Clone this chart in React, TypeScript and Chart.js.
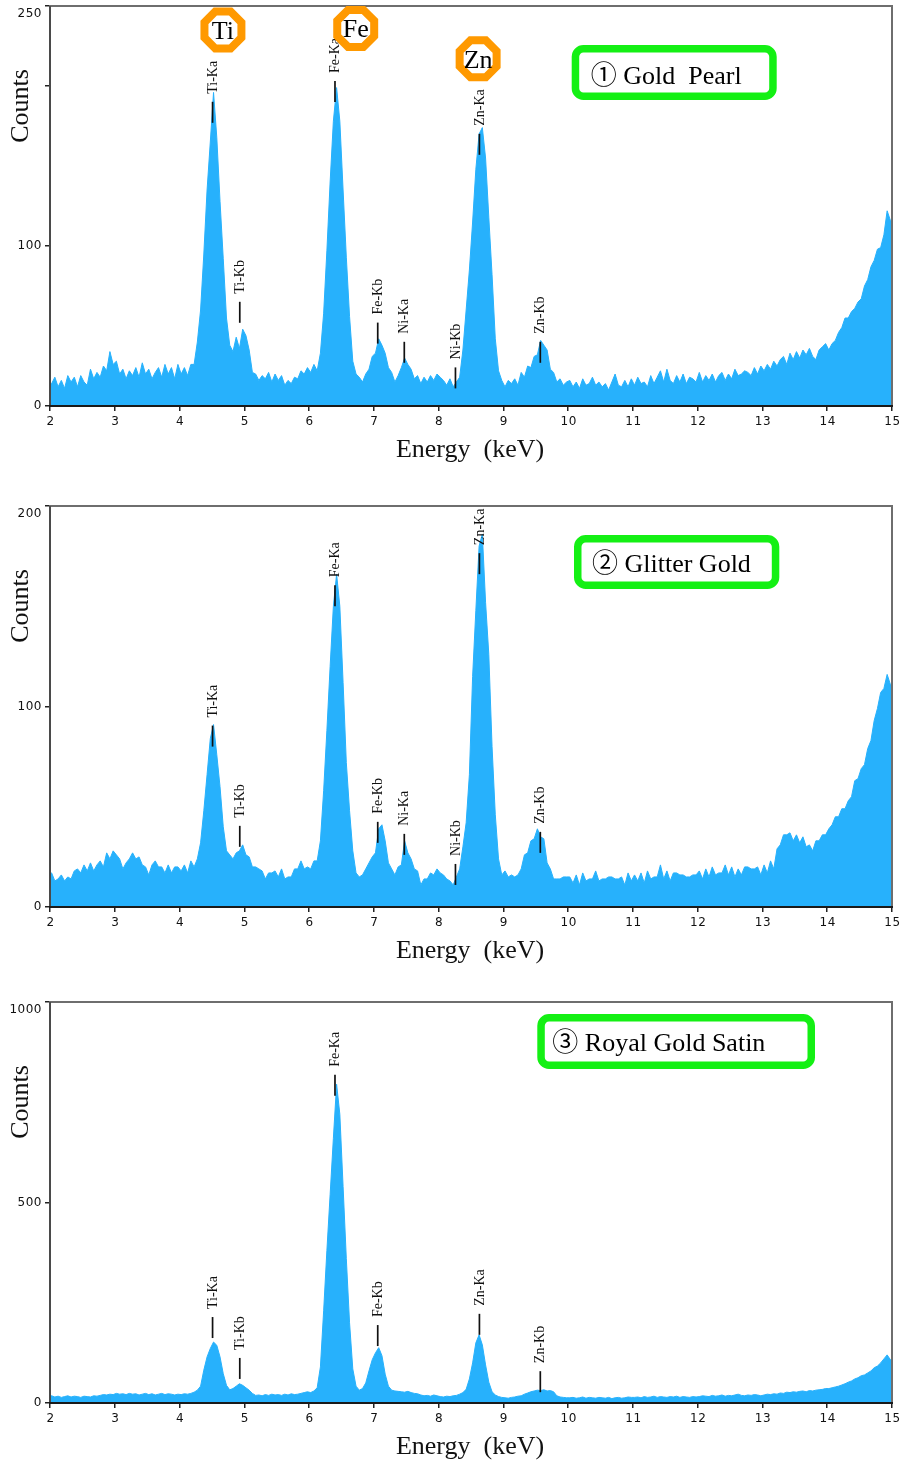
import React, { useEffect, useRef } from 'react';
import { Chart, registerables } from 'chart.js';

Chart.register(...registerables);

// ---------------- DATA ----------------
const ENERGY_MIN = 2;
const ENERGY_MAX = 15;
const CHANNEL_KEV = 0.05; // channel width (keV); counts below are channels starting at 2.00 keV

const X_TICKS = [2, 3, 4, 5, 6, 7, 8, 9, 10, 11, 12, 13, 14, 15];

// ① Gold Pearl (counts per channel, 2.00 - 15.00 keV, one row per keV)
const GOLD_PEARL_COUNTS = [
  14, 18, 12, 16, 11, 19, 15, 18, 12, 19, 15, 13, 23, 17, 21, 18, 25, 22, 34, 26,
  28, 20, 23, 17, 22, 19, 24, 18, 27, 20, 23, 17, 21, 24, 18, 26, 20, 24, 17, 26,
  20, 24, 19, 26, 26, 40, 60, 95, 135, 165, 196, 168, 128, 92, 55, 38, 34, 43, 36, 48,
  44, 35, 21, 20, 16, 19, 17, 21, 15, 20, 16, 19, 13, 16, 14, 18, 17, 22, 20, 24,
  21, 26, 22, 33, 58, 97, 140, 178, 199, 178, 135, 93, 56, 28, 20, 18, 15, 20, 23, 31,
  33, 42, 38, 33, 24, 21, 15, 19, 24, 30, 26, 23, 17, 19, 14, 18, 15, 19, 16, 20,
  18, 16, 13, 17, 12, 15, 18, 35, 60, 85, 115, 148, 170, 174, 155, 118, 82, 42, 22, 16,
  12, 16, 14, 17, 13, 21, 18, 25, 24, 31, 32, 41, 38, 35, 23, 21, 15, 17, 13, 15,
  16, 12, 15, 11, 17, 13, 14, 18, 13, 15, 12, 14, 10, 15, 20, 13, 12, 16, 12, 17,
  13, 18, 14, 15, 12, 19, 14, 18, 22, 15, 23, 16, 14, 19, 15, 20, 14, 18, 17, 15,
  21, 15, 19, 16, 20, 15, 19, 21, 16, 20, 17, 23, 19, 20, 22, 21, 19, 24, 20, 25,
  22, 26, 23, 28, 25, 29, 31, 26, 33, 29, 34, 30, 35, 32, 36, 31, 29, 35, 37, 39,
  35, 39, 41, 46, 49, 55, 55, 59, 61, 65, 67, 75, 79, 87, 91, 98, 99, 107, 122, 116,
];

// ② Glitter Gold
const GLITTER_GOLD_COUNTS = [
  17, 13, 14, 16, 13, 15, 14, 18, 19, 17, 21, 18, 22, 18, 21, 23, 20, 27, 24, 28,
  26, 24, 19, 22, 24, 27, 24, 25, 21, 20, 16, 21, 23, 20, 20, 17, 21, 17, 20, 20,
  18, 21, 17, 23, 20, 24, 32, 48, 66, 84, 91, 76, 60, 40, 28, 26, 24, 27, 28, 31,
  26, 25, 20, 20, 19, 18, 14, 17, 17, 18, 15, 19, 14, 15, 15, 19, 19, 23, 19, 20,
  19, 23, 23, 33, 58, 88, 120, 150, 166, 150, 112, 72, 48, 28, 17, 15, 16, 19, 22, 25,
  27, 39, 41, 33, 22, 19, 16, 20, 21, 33, 27, 24, 19, 18, 11, 14, 14, 17, 16, 19,
  17, 16, 14, 13, 11, 15, 19, 30, 42, 66, 115, 148, 180, 186, 152, 126, 80, 46, 24, 16,
  18, 15, 16, 15, 16, 19, 26, 27, 33, 34, 39, 35, 34, 22, 19, 14, 14, 14, 15, 15,
  15, 12, 16, 11, 17, 13, 14, 14, 18, 13, 14, 14, 15, 15, 14, 14, 15, 11, 17, 13,
  16, 13, 17, 12, 18, 14, 15, 15, 21, 14, 18, 13, 17, 17, 16, 16, 15, 15, 16, 16,
  18, 14, 19, 15, 20, 16, 17, 17, 21, 16, 20, 15, 19, 16, 20, 20, 19, 19, 20, 16,
  21, 17, 23, 19, 29, 31, 36, 36, 37, 33, 36, 32, 35, 30, 31, 28, 33, 33, 36, 36,
  39, 41, 45, 45, 49, 49, 53, 55, 63, 64, 69, 71, 79, 83, 93, 99, 107, 109, 116, 111,
];

// ③ Royal Gold Satin
const ROYAL_GOLD_SATIN_COUNTS = [
  18, 15, 17, 14, 16, 18, 15, 17, 16, 14, 17, 16, 15, 18, 17, 19, 21, 20, 22, 21,
  24, 22, 23, 21, 24, 22, 23, 20, 22, 24, 21, 23, 20, 22, 24, 21, 23, 22, 20, 22,
  21, 23, 22, 24, 27, 32, 42, 82, 115, 136, 152, 144, 115, 73, 44, 33, 36, 42, 48, 44,
  38, 32, 24, 19, 20, 18, 21, 19, 22, 20, 21, 19, 22, 20, 23, 21, 22, 24, 26, 28,
  26, 30, 38, 90, 230, 380, 520, 660, 795, 720, 540, 360, 200, 85, 42, 32, 36, 50, 80, 108,
  125, 138, 118, 72, 42, 32, 30, 29, 28, 27, 29, 26, 24, 23, 20, 18, 19, 17, 20, 18,
  16, 15, 17, 16, 18, 19, 22, 26, 34, 60, 100, 150, 170, 145, 95, 52, 28, 20, 16, 14,
  13, 12, 14, 15, 17, 18, 22, 25, 28, 30, 32, 31, 33, 30, 31, 28, 18, 15, 14, 13,
  13, 14, 12, 13, 15, 12, 14, 13, 12, 14, 13, 12, 14, 11, 13, 14, 12, 13, 15, 14,
  14, 15, 13, 16, 14, 15, 17, 14, 16, 15, 14, 16, 15, 17, 14, 16, 15, 14, 16, 15,
  16, 18, 17, 16, 19, 17, 18, 20, 17, 19, 18, 20, 22, 19, 18, 20, 19, 21, 20, 18,
  20, 22, 21, 23, 22, 25, 24, 27, 26, 28, 27, 29, 30, 28, 31, 30, 32, 33, 34, 36,
  36, 38, 40, 42, 45, 48, 52, 55, 60, 63, 68, 70, 75, 80, 88, 92, 100, 110, 120, 108,
];

// y-axis ticks & labels
const GOLD_PEARL_Y_TICKS = [0, 100, 200, 250];
const GOLD_PEARL_Y_LABELS = ['0', '100', '', '250'];
const GLITTER_GOLD_Y_TICKS = [0, 100, 200];
const GLITTER_GOLD_Y_LABELS = ['0', '100', '200'];
const ROYAL_GOLD_SATIN_Y_TICKS = [0, 500, 1000];
const ROYAL_GOLD_SATIN_Y_LABELS = ['0', '500', '1000'];

// X-ray line markers
const LINE_NAMES = ['Ti-Ka', 'Ti-Kb', 'Fe-Ka', 'Fe-Kb', 'Ni-Ka', 'Ni-Kb', 'Zn-Ka', 'Zn-Kb'];
const LINE_ENERGIES = [4.51, 4.93, 6.4, 7.06, 7.47, 8.26, 8.63, 9.57];
// count level at which each marker tick ends (null = not marked)
const GOLD_PEARL_MARKER_COUNTS = [177, 52, 190, 39, 27, 11, 157, 27];
const GLITTER_GOLD_MARKER_COUNTS = [80, 30, 150, 32, 26, 11, 166, 27];
const ROYAL_GOLD_SATIN_MARKER_COUNTS = [162, 60, 766, 142, null, null, 170, 27];

// element badges (panel 1)
const BADGE_ELEMENTS = ['Ti', 'Fe', 'Zn'];
const BADGE_ENERGIES = [4.67, 6.72, 8.61];
const BADGE_COUNTS = [235, 236, 217];

const SAMPLE_NAMES = ['\u2460 Gold  Pearl', '\u2461 Glitter Gold', '\u2462 Royal Gold Satin'];

const X_TITLE = 'Energy  (keV)';
const Y_TITLE = 'Counts';

// ---------------- STYLE / LAYOUT ----------------
const FILL = '#27B1FC';
const SERIF = '"Liberation Serif", "Times New Roman", "Noto Sans CJK JP", serif';
const TICK_FONT = '12px "DejaVu Sans", Verdana, sans-serif';

type Panel = {
  counts: number[];
  yMax: number;
  yTicks: number[];
  yLabels: string[];
  markerCounts: (number | null)[];
  name: string;
  badges: boolean;
  canvasTop: number;
  canvasHeight: number;
  plotHeight: number;
  box: { dx: number; dy: number; w: number; h: number; tx: number; ty: number };
};

const PANELS: Panel[] = [
  {
    counts: GOLD_PEARL_COUNTS, yMax: 250, yTicks: GOLD_PEARL_Y_TICKS, yLabels: GOLD_PEARL_Y_LABELS,
    markerCounts: GOLD_PEARL_MARKER_COUNTS, name: SAMPLE_NAMES[0], badges: true,
    canvasTop: 0, canvasHeight: 490, plotHeight: 400,
    box: { dx: 521.7, dy: 39, w: 205, h: 55, tx: 19, ty: 38.5 },
  },
  {
    counts: GLITTER_GOLD_COUNTS, yMax: 200, yTicks: GLITTER_GOLD_Y_TICKS, yLabels: GLITTER_GOLD_Y_LABELS,
    markerCounts: GLITTER_GOLD_MARKER_COUNTS, name: SAMPLE_NAMES[1], badges: false,
    canvasTop: 500, canvasHeight: 490, plotHeight: 401,
    box: { dx: 524, dy: 29, w: 205.3, h: 54, tx: 18, ty: 36.7 },
  },
  {
    counts: ROYAL_GOLD_SATIN_COUNTS, yMax: 1000, yTicks: ROYAL_GOLD_SATIN_Y_TICKS, yLabels: ROYAL_GOLD_SATIN_Y_LABELS,
    markerCounts: ROYAL_GOLD_SATIN_MARKER_COUNTS, name: SAMPLE_NAMES[2], badges: false,
    canvasTop: 996, canvasHeight: 464, plotHeight: 401,
    box: { dx: 487.3, dy: 12, w: 277.7, h: 55, tx: 15, ty: 37 },
  },
];

const PLOT_TOP = 6;
const PLOT_LEFT = 50;
const PLOT_RIGHT_PAD = 11;

function octagon(ctx: CanvasRenderingContext2D, cx: number, cy: number, r: number) {
  ctx.beginPath();
  for (let k = 0; k < 8; k++) {
    const a = Math.PI / 8 + (k * Math.PI) / 4;
    const px = cx + r * Math.cos(a);
    const py = cy + r * Math.sin(a);
    if (k === 0) ctx.moveTo(px, py);
    else ctx.lineTo(px, py);
  }
  ctx.closePath();
}

function makeOverlay(panel: Panel) {
  return {
    id: 'overlay',
    afterDraw(chart: any) {
      const ctx: CanvasRenderingContext2D = chart.ctx;
      const { left, right, top, bottom } = chart.chartArea;
      const xs = chart.scales.x;
      const ys = chart.scales.y;
      ctx.save();

      // markers
      LINE_NAMES.forEach((name, i) => {
        const v = panel.markerCounts[i];
        if (v === null || v === undefined) return;
        const x = xs.getPixelForValue(LINE_ENERGIES[i]);
        const yb = ys.getPixelForValue(v);
        const yt = yb - 21;
        ctx.strokeStyle = '#111';
        ctx.lineWidth = 1.7;
        ctx.beginPath();
        ctx.moveTo(x, yb);
        ctx.lineTo(x, yt);
        ctx.stroke();
        ctx.save();
        ctx.translate(x + 0.5, yt - 8);
        ctx.rotate(-Math.PI / 2);
        ctx.font = `14px ${SERIF}`;
        ctx.fillStyle = '#111';
        ctx.textAlign = 'left';
        ctx.textBaseline = 'middle';
        ctx.fillText(name, 0, 0);
        ctx.restore();
      });

      // frame
      ctx.strokeStyle = '#6e6e6e';
      ctx.lineWidth = 2;
      ctx.strokeRect(left, top, right - left, bottom - top);
      ctx.strokeStyle = '#4a4a4a';
      ctx.beginPath();
      ctx.moveTo(left, top);
      ctx.lineTo(left, bottom);
      ctx.stroke();
      ctx.strokeStyle = '#1a1a1a';
      ctx.beginPath();
      ctx.moveTo(left - 1, bottom);
      ctx.lineTo(right + 1, bottom);
      ctx.stroke();

      // tick labels
      ctx.font = TICK_FONT;
      (ctx as any).letterSpacing = '0.5px';
      ctx.fillStyle = '#111';
      ctx.textBaseline = 'middle';
      ctx.textAlign = 'right';
      panel.yTicks.forEach((t, i) => {
        const lab = panel.yLabels[i];
        if (!lab) return;
        let y = ys.getPixelForValue(t);
        if (t === panel.yMax) y += 8;
        ctx.fillText(lab, left - 8, y);
      });
      ctx.textAlign = 'center';
      X_TICKS.forEach((t) => {
        ctx.fillText(String(t), xs.getPixelForValue(t) + 0.5, bottom + 16);
      });
      (ctx as any).letterSpacing = '0px';

      // axis titles
      ctx.fillStyle = '#111';
      ctx.font = `26px ${SERIF}`;
      ctx.textAlign = 'center';
      ctx.textBaseline = 'alphabetic';
      ctx.fillText(X_TITLE, 470, bottom + 51);
      ctx.save();
      ctx.translate(28, top + 100);
      ctx.rotate(-Math.PI / 2);
      ctx.fillText(Y_TITLE, 0, 0);
      ctx.restore();

      // element badges
      if (panel.badges) {
        BADGE_ELEMENTS.forEach((el, i) => {
          const cx = xs.getPixelForValue(BADGE_ENERGIES[i]);
          const cy = ys.getPixelForValue(BADGE_COUNTS[i]);
          octagon(ctx, cx, cy, 20);
          ctx.fillStyle = '#fff';
          ctx.fill();
          ctx.strokeStyle = '#FF9900';
          ctx.lineWidth = 8;
          ctx.lineJoin = 'miter';
          ctx.stroke();
          ctx.fillStyle = '#000';
          ctx.font = `26px ${SERIF}`;
          ctx.textAlign = 'center';
          ctx.textBaseline = 'alphabetic';
          ctx.fillText(el, cx, cy + 9);
        });
      }

      // sample name box
      const b = panel.box;
      const bx = left + b.dx;
      const by = top + b.dy;
      const lw = 7.5;
      ctx.beginPath();
      (ctx as any).roundRect(bx + lw / 2, by + lw / 2, b.w - lw, b.h - lw, 8);
      ctx.fillStyle = '#fff';
      ctx.fill();
      ctx.strokeStyle = '#14F014';
      ctx.lineWidth = lw;
      ctx.stroke();
      ctx.fillStyle = '#000';
      ctx.font = `26px ${SERIF}`;
      ctx.textAlign = 'left';
      ctx.textBaseline = 'alphabetic';
      ctx.fillText(panel.name, bx + b.tx, by + b.ty);

      ctx.restore();
    },
  };
}

function SpectrumPanel({ panel }: { panel: Panel }) {
  const ref = useRef<HTMLCanvasElement>(null);
  useEffect(() => {
    const canvas = ref.current;
    if (!canvas) return;
    // each channel plotted at its centre; the spectrum edges repeat the end channels
    const points = panel.counts.map((v, i) => ({ x: ENERGY_MIN + (i + 0.5) * CHANNEL_KEV, y: v }));
    points.unshift({ x: ENERGY_MIN, y: panel.counts[0] });
    points.push({ x: ENERGY_MAX, y: panel.counts[panel.counts.length - 1] });
    const xAxisHeight = panel.canvasHeight - PLOT_TOP - panel.plotHeight;
    const chart = new Chart(canvas, {
      type: 'line',
      data: {
        datasets: [
          {
            data: points,
            fill: 'origin',
            backgroundColor: FILL,
            borderColor: FILL,
            borderWidth: 1,
            pointRadius: 0,
            tension: 0,
          } as any,
        ],
      },
      options: {
        animation: false,
        responsive: false,
        events: [],
        layout: { padding: { top: PLOT_TOP, left: 0, right: PLOT_RIGHT_PAD, bottom: 0 } },
        plugins: { legend: { display: false }, tooltip: { enabled: false } },
        scales: {
          x: {
            type: 'linear',
            min: ENERGY_MIN,
            max: ENERGY_MAX,
            afterBuildTicks: (s: any) => {
              s.ticks = X_TICKS.map((v) => ({ value: v }));
            },
            afterFit: (s: any) => {
              s.height = xAxisHeight;
            },
            ticks: { display: false },
            grid: { drawOnChartArea: false, drawTicks: true, tickLength: 5, color: '#222', lineWidth: 1.5 },
            border: { display: false },
          },
          y: {
            type: 'linear',
            min: 0,
            max: panel.yMax,
            afterBuildTicks: (s: any) => {
              s.ticks = panel.yTicks.map((v) => ({ value: v }));
            },
            afterFit: (s: any) => {
              s.width = PLOT_LEFT;
            },
            ticks: { display: false },
            grid: { drawOnChartArea: false, drawTicks: true, tickLength: 5, color: '#222', lineWidth: 1.5 },
            border: { display: false },
          },
        },
      } as any,
      plugins: [makeOverlay(panel)],
    });
    return () => chart.destroy();
  }, [panel]);
  return (
    <canvas
      ref={ref}
      width={903}
      height={panel.canvasHeight}
      style={{ position: 'absolute', left: 0, top: panel.canvasTop, display: 'block' }}
    />
  );
}

export default function App() {
  return (
    <div style={{ position: 'absolute', left: 0, top: 0, width: 903, height: 1460, background: '#fff' }}>
      {PANELS.map((p, i) => (
        <SpectrumPanel key={i} panel={p} />
      ))}
    </div>
  );
}
